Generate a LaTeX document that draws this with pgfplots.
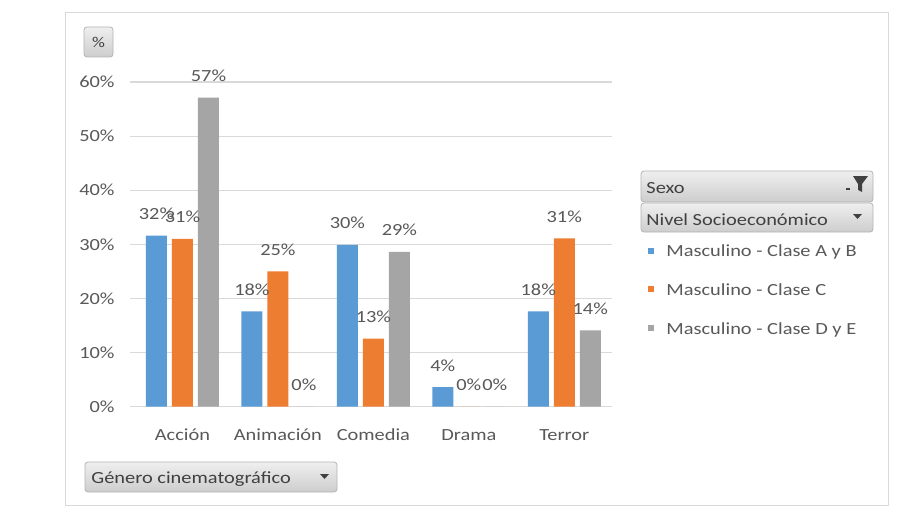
\documentclass[border=0pt]{standalone}
\usepackage{fontspec}
\setmainfont[FakeStretch=1.2]{Carlito}
\usepackage{pgfplots}
\pgfplotsset{compat=1.18}

\definecolor{serA}{HTML}{5B9BD5}
\definecolor{serC}{HTML}{ED7D31}
\definecolor{serD}{HTML}{A5A5A5}
\definecolor{txt}{HTML}{595959}
\definecolor{gridc}{HTML}{D9D9D9}
\definecolor{btnborder}{HTML}{B4B4B4}
\definecolor{btntop}{HTML}{EFEFEF}
\definecolor{btnbot}{HTML}{CDCDCD}
\definecolor{btntxt}{HTML}{404040}

\begin{document}
\begin{tikzpicture}[font=\fontsize{8.5}{10}\selectfont]
% pixel grid of the reference, y pointing down
\begin{scope}[x=0.5pt,y=-0.5pt]
  \path[use as bounding box, fill=white] (0,0) rectangle (904,519);
  \draw[gridc] (65,12) rectangle (888,505);

  % pivot field buttons
  \tikzset{btn/.style={draw=btnborder, rounded corners=1.5pt, top color=btntop, bottom color=btnbot}}
  \path[btn] (84,27) rectangle (113,57);
  \node[text=btntxt, font=\fontsize{7.5}{8}\selectfont] at (98.5,42) {\%};

  \path[btn] (641,171) rectangle (873,202);
  \node[anchor=base west, text=btntxt, inner sep=0pt] at (646,193) {Sexo};
  \fill[btntxt] (853,176) -- (868,176) -- (862,184) -- (862,192) -- (858,190) -- (858,184) -- cycle;
  \fill[btntxt] (846,188) rectangle (850,190);

  \path[btn] (641,203) rectangle (873,232);
  \node[anchor=base west, text=btntxt, inner sep=0pt] at (646,225) {Nivel Socioeconómico};
  \fill[btntxt] (853,214) -- (862,214) -- (857.5,219) -- cycle;

  \path[btn] (85,462) rectangle (337,492);
  \node[anchor=base west, text=btntxt, inner sep=0pt] at (91,483) {Género cinematográfico};
  \fill[btntxt] (320,474) -- (329,474) -- (324.5,479) -- cycle;

  % legend
  \fill[serA] (648,248) rectangle (654,254);
  \node[anchor=base west, text=txt, inner sep=0pt] at (666,256.7) {Masculino - Clase A y B};
  \fill[serC] (648,286) rectangle (654,292);
  \node[anchor=base west, text=txt, inner sep=0pt] at (666,295) {Masculino - Clase C};
  \fill[serD] (648,325) rectangle (654,331);
  \node[anchor=base west, text=txt, inner sep=0pt] at (666,334) {Masculino - Clase D y E};
\end{scope}

\begin{axis}[
    at={(65pt,-203.35pt)}, anchor=south west,
    scale only axis, width=241pt, height=162.35pt,
    ybar, bar width=10.5pt, ybar=2.5pt,
    xmin=-0.55, xmax=4.5, ymin=0, ymax=60,
    xtick={0,1,2,3,4},
    xticklabels={Acción,Animación,Comedia,Drama,Terror},
    ytick={0,10,...,60},
    yticklabel={\pgfmathprintnumber{\tick}\%},
    /pgf/number format/assume math mode=true,
    ymajorgrids, grid style={gridc, line width=0.6pt},
    axis line style={draw=none},
    major tick length=0pt,
    tick label style={text=txt, font=\fontsize{8.5}{10}\selectfont},
    yticklabel style={xshift=-4.2pt},
    xticklabel style={anchor=base, yshift=-17pt},
    nodes near coords={\pgfmathprintnumber[fixed,precision=0]{\pgfplotspointmeta}\%},
    every node near coord/.append style={anchor=base, yshift=8pt, text=txt, font=\fontsize{8.5}{10}\selectfont, inner sep=0pt},
    clip=false,
]
\addplot[fill=serA, draw=none] coordinates {(0,31.6) (1,17.6) (2,29.9) (3,3.6) (4,17.6)};
\addplot[fill=serC, draw=none] coordinates {(0,31.0) (1,25.0) (2,12.6) (3,0) (4,31.1)};
\addplot[fill=serD, draw=none] coordinates {(0,57.1) (1,0) (2,28.6) (3,0) (4,14.1)};
\end{axis}
\end{tikzpicture}
\end{document}
